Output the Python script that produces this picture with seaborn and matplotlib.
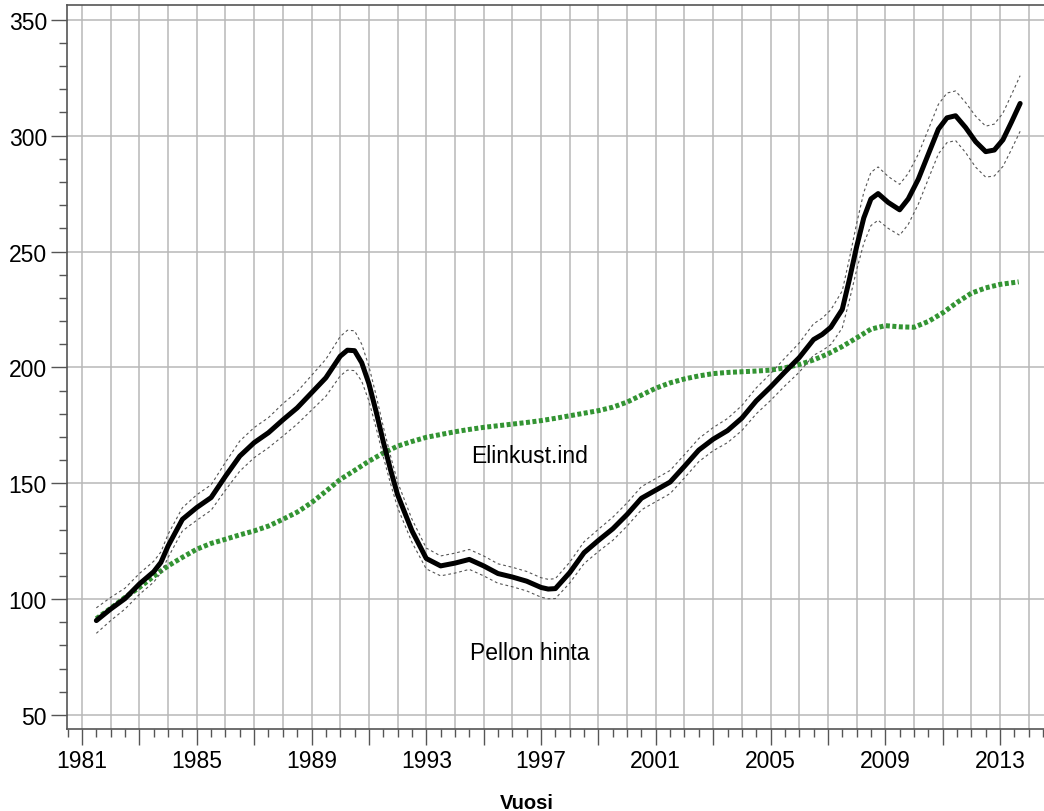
import numpy as np
import pandas as pd
import matplotlib
matplotlib.use("Agg")
import matplotlib.pyplot as plt
import seaborn as sns
from matplotlib.ticker import MultipleLocator

# ---------------- data ----------------
price_years = [
    1981.5, 1982.0, 1982.5, 1983.0, 1983.5, 1983.75, 1984.0, 1984.5, 1985.0, 1985.5,
    1986.0, 1986.5, 1987.0, 1987.5, 1988.0, 1988.5, 1989.0, 1989.5, 1990.0, 1990.25,
    1990.5, 1990.75, 1991.0, 1991.25, 1991.5, 1991.75, 1992.0, 1992.5, 1993.0, 1993.5,
    1994.0, 1994.5, 1995.0, 1995.5, 1996.0, 1996.5, 1997.0, 1997.25, 1997.5, 1998.0,
    1998.5, 1999.0, 1999.5, 2000.0, 2000.5, 2001.0, 2001.5, 2002.0, 2002.5, 2003.0,
    2003.5, 2004.0, 2004.5, 2005.0, 2005.5, 2006.0, 2006.5, 2006.8, 2007.1, 2007.5,
    2007.75, 2008.0, 2008.25, 2008.5, 2008.75, 2009.1, 2009.5, 2009.8, 2010.15, 2010.5,
    2010.85, 2011.15, 2011.45, 2011.8, 2012.15, 2012.5, 2012.8, 2013.1, 2013.4, 2013.7,
]
pellon_hinta = [
    90.7, 95.7, 100.2, 106.5, 111.8, 115.8, 122.9, 134.4, 139.5, 143.8,
    153.0, 161.7, 167.5, 171.8, 177.3, 182.5, 189.0, 195.5, 204.8, 207.4,
    207.2, 202.0, 193.0, 181.0, 168.0, 156.0, 145.0, 129.5, 117.5, 114.3,
    115.5, 117.1, 114.3, 111.0, 109.5, 107.7, 105.0, 104.3, 104.5, 111.4,
    120.0, 125.3, 130.3, 136.5, 143.5, 147.0, 150.5, 157.3, 164.3, 169.0,
    172.7, 178.1, 185.5, 191.5, 198.0, 204.2, 212.0, 214.2, 217.3, 225.0,
    238.0, 252.0, 264.5, 272.7, 275.0, 271.2, 268.0, 272.7, 281.2, 292.0,
    302.8, 307.7, 308.6, 303.5, 297.4, 293.1, 293.8, 298.2, 305.9, 313.9,
]
band_halfwidth = [
    5.5, 5.0, 4.5, 4.5, 4.5, 4.5, 5.0, 5.0, 5.5, 5.5,
    6.0, 6.5, 6.5, 6.5, 7.0, 7.0, 7.5, 8.0, 8.5, 8.6,
    8.6, 8.0, 7.5, 7.0, 6.5, 6.0, 5.5, 5.0, 4.5, 4.3,
    4.3, 4.3, 4.3, 4.2, 4.2, 4.2, 4.2, 4.2, 4.3, 4.5,
    4.7, 4.8, 5.0, 5.0, 5.0, 5.0, 5.0, 5.0, 5.0, 5.0,
    5.2, 5.4, 5.6, 5.8, 6.0, 6.3, 6.8, 7.0, 7.5, 8.0,
    9.0, 10.0, 11.0, 11.5, 11.5, 11.2, 11.0, 11.0, 10.8, 10.7,
    10.7, 10.7, 10.7, 10.8, 11.0, 11.0, 11.2, 11.5, 11.8, 12.0,
]

cpi_years = [
    1981.5, 1982.0, 1982.5, 1983.0, 1983.5, 1984.0, 1984.5, 1985.0, 1985.5, 1986.0,
    1986.5, 1987.0, 1987.5, 1988.0, 1988.5, 1989.0, 1989.5, 1990.0, 1990.5, 1991.0,
    1991.5, 1992.0, 1992.5, 1993.0, 1993.5, 1994.0, 1994.5, 1995.0, 1995.5, 1996.0,
    1996.5, 1997.0, 1997.5, 1998.0, 1998.5, 1999.0, 1999.5, 2000.0, 2000.5, 2001.0,
    2001.5, 2002.0, 2002.5, 2003.0, 2003.5, 2004.0, 2004.5, 2005.0, 2005.5, 2006.0,
    2006.5, 2007.0, 2007.5, 2008.0, 2008.5, 2009.0, 2009.5, 2010.0, 2010.5, 2011.0,
    2011.5, 2012.0, 2012.5, 2013.0, 2013.65,
]
elinkust_ind = [
    91.5, 96.0, 100.7, 105.0, 109.8, 114.3, 118.0, 121.5, 124.0, 125.8,
    127.7, 129.4, 131.5, 134.4, 137.5, 141.6, 146.5, 151.6, 155.5, 159.5,
    163.0, 166.0, 168.0, 169.8, 171.0, 172.2, 173.2, 174.1, 174.8, 175.5,
    176.2, 177.0, 178.0, 179.1, 180.2, 181.3, 182.8, 185.0, 188.0, 191.0,
    193.3, 195.0, 196.3, 197.3, 197.8, 198.1, 198.4, 198.8, 199.8, 201.2,
    203.2, 205.8, 209.0, 212.7, 216.5, 218.0, 217.5, 217.3, 219.8, 223.5,
    228.0, 232.0, 234.3, 235.8, 236.9,
]

x_tick_labels = ["1981", "1985", "1989", "1993", "1997", "2001", "2005", "2009", "2013"]
y_tick_labels = ["50", "100", "150", "200", "250", "300", "350"]

label_elinkust = "Elinkust.ind"
label_pellon = "Pellon hinta"
x_title = "Vuosi"

# ---------------- plotting ----------------
sns.set_theme(style="white")
plt.rcParams["font.family"] = ["Liberation Sans", "DejaVu Sans"]
plt.rcParams["text.color"] = "black"
plt.rcParams["axes.labelcolor"] = "black"
plt.rcParams["xtick.color"] = "black"
plt.rcParams["ytick.color"] = "black"

df_p = pd.DataFrame({"year": price_years, "value": pellon_hinta, "hw": band_halfwidth})
df_p["upper"] = df_p["value"] + df_p["hw"]
df_p["lower"] = df_p["value"] - df_p["hw"]
df_c = pd.DataFrame({"year": cpi_years, "value": elinkust_ind})

fig = plt.figure(figsize=(10.44, 8.12), dpi=100)
ax_w = 1 - 67 / 1044 + 0.02
ax = fig.add_axes([67 / 1044, 1 - 730 / 812, ax_w, (730 - 6) / 812])

grid_c = "#b8b8b8"
ax.set_xlim(1980.477, 2015.26)
ax.set_ylim(43.9, 356.4)

# grid: vertical every year, horizontal every 50
for yr in range(1981, 2016):
    ax.axvline(yr, color=grid_c, lw=1.1, zorder=0)
for yv in range(50, 351, 50):
    ax.axhline(yv, color=grid_c, lw=1.1, zorder=0)

sns.lineplot(data=df_c, x="year", y="value", ax=ax, color="#339433",
             lw=3.6, linestyle=(0, (0.8, 0.5)), zorder=3, sort=False)
sns.lineplot(data=df_p, x="year", y="upper", ax=ax, color="#555555",
             lw=0.8, linestyle=(0, (2.5, 2.5)), zorder=4, sort=False)
sns.lineplot(data=df_p, x="year", y="lower", ax=ax, color="#555555",
             lw=0.8, linestyle=(0, (2.5, 2.5)), zorder=4, sort=False)
sns.lineplot(data=df_p, x="year", y="value", ax=ax, color="black",
             lw=3.6, zorder=5, sort=False, solid_capstyle="round", solid_joinstyle="round")

# ticks: major every 2 years (labels every 4), minor every half year
label_years = [int(t) for t in x_tick_labels]
major_years = sorted(label_years + list(range(1983, 2016, 4)))
ax.set_xticks(major_years)
ax.set_xticklabels([str(v) if v in label_years else "" for v in major_years])
ax.xaxis.set_minor_locator(MultipleLocator(0.5))
ax.set_yticks([int(t) for t in y_tick_labels])
ax.set_yticklabels(y_tick_labels)
ax.yaxis.set_minor_locator(MultipleLocator(10))

spine_c = "#555555"
ax.tick_params(axis="both", which="major", length=11.5, width=1.0, color=spine_c,
               labelsize=16.5, labelcolor="black", direction="out")
ax.tick_params(axis="both", which="minor", length=5.8, width=1.0, color=spine_c, direction="out")
ax.tick_params(axis="x", which="major", pad=3)
ax.tick_params(axis="y", which="major", pad=3)
ax.tick_params(axis="both", which="both", bottom=True, left=True, top=False, right=False)

for s in ["left", "bottom", "top"]:
    ax.spines[s].set_visible(True)
    ax.spines[s].set_color(spine_c)
    ax.spines[s].set_linewidth(1.2)
ax.spines["right"].set_visible(False)

ax.set_xlabel(x_title, fontsize=14.5, fontweight="bold", color="black")
ax.xaxis.set_label_coords((527 - 67) / (ax_w * 1044), -0.088)
ax.set_ylabel("")

ax.text(1996.6, 161.9, label_elinkust, fontsize=16.5, ha="center", va="center",
        color="black", zorder=6)
ax.text(1996.6, 77.1, label_pellon, fontsize=16.5, ha="center", va="center",
        color="black", zorder=6)

fig.savefig("out.png", dpi=100)
